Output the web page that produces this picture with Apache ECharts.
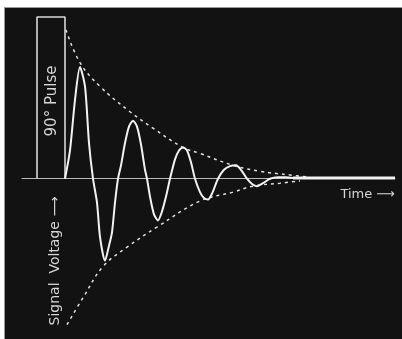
<!DOCTYPE html>
<html>
<head>
<meta charset="utf-8">
<script src="https://cdn.jsdelivr.net/npm/echarts@6/dist/echarts.min.js"></script>
<style>
html,body{margin:0;padding:0;background:#fff;width:402px;height:339px;overflow:hidden;}
#panel{position:absolute;left:4px;top:7px;width:398px;height:332px;background:#121212;border-left:1px solid #9a9a9a;border-top:1px solid #9a9a9a;box-sizing:border-box;}
#chart{position:absolute;left:0;top:0;width:402px;height:339px;}
</style>
</head>
<body>
<div id="panel"></div>
<div id="chart"></div>
<script>
// Time (arbitrary units) and signal voltage (% of initial amplitude)
const signalTime = [0, 0.5, 1.0, 1.5, 2.0, 2.4, 2.8, 3.2, 3.5, 4.0, 4.4, 4.7, 5.0, 5.3, 5.6, 6.0, 6.4, 6.8, 7.2, 7.6, 8.0, 8.2, 8.5, 8.9, 9.3, 9.7, 10.1, 10.5, 11.0, 11.4, 11.8, 12.2, 12.6, 13.0, 13.5, 13.9, 14.3, 14.7, 15.3, 15.9, 16.5, 17.1, 17.6, 18.2, 18.7, 19.2, 19.8, 20.5, 21.3, 22.1, 22.8];
const signalVolt = [0, 19, 53, 75, 62, 24, 0, -16, -39, -55, -45, -36, -16, 0, 9, 24, 35, 39, 35, 23, 6, 0, -12, -24, -28, -22, -12, 0, 13, 19, 21, 19, 11, 0, -9, -13, -14, -10, 0, 6, 8.5, 9, 6, 0, -3.5, -5, -3, 0, 1, 1, 0.5];
const tailTime = [22.8, 33.0];
const tailVolt = [0.5, 0.5];
const upperTime = [0.1, 1.5, 3.5, 6.5, 8.8, 11.8, 13.5, 16.8, 19.5, 22.5, 24.5];
const upperVolt = [100, 78, 62, 45, 34, 21, 17, 9, 5, 2.5, 1];
const lowerTime = [0.2, 1.8, 3.8, 6.2, 9.2, 13.5, 16.8, 18.8, 21.5, 23.5];
const lowerVolt = [-98, -80, -59, -46, -32.5, -15, -9, -5, -3, -1.5];
const pulseTime = [-2.8, -2.8, 0, 0];
const pulseVolt = [0, 108.7, 108.7, 0];
const labels = { pulse: '90° Pulse', signal: 'Signal  Voltage ⟶', time: 'Time ⟶' };

const zip = (a, b) => a.map((v, i) => [v, b[i]]);
const chart = echarts.init(document.getElementById('chart'), null, { renderer: 'canvas' });
chart.setOption({
  backgroundColor: 'transparent',
  animation: false,
  grid: { left: 22, right: 7, top: 15, bottom: 4 },
  xAxis: {
    type: 'value', min: -4.3, max: 33,
    axisLine: { show: true, onZero: true, lineStyle: { color: 'rgba(215,215,215,0.85)', width: 1 } },
    axisTick: { show: false }, axisLabel: { show: false }, splitLine: { show: false }
  },
  yAxis: {
    type: 'value', min: -105, max: 110, show: false, splitLine: { show: false }
  },
  series: [
    { type: 'line', data: zip(pulseTime, pulseVolt), symbol: 'none',
      lineStyle: { color: '#d8d8d8', width: 1.6 } },
    { type: 'line', data: zip(upperTime, upperVolt), symbol: 'none', smooth: 0.4,
      lineStyle: { color: '#e0e0e0', width: 1.5, type: [3, 4] } },
    { type: 'line', data: zip(lowerTime, lowerVolt), symbol: 'none', smooth: 0.4,
      lineStyle: { color: '#e0e0e0', width: 1.5, type: [3, 4] } },
    { type: 'line', data: zip(signalTime, signalVolt), symbol: 'none', smooth: 0.25,
      lineStyle: { color: '#f2f2f2', width: 2 } },
    { type: 'line', data: zip(tailTime, tailVolt), symbol: 'none',
      lineStyle: { color: '#f2f2f2', width: 3 } }
  ],
  graphic: [
    { type: 'text', x: 52, y: 101, rotation: Math.PI / 2,
      style: { text: labels.pulse, fill: '#d6d6d6', font: '15px "DejaVu Sans", sans-serif', textAlign: 'center', textVerticalAlign: 'middle' } },
    { type: 'text', x: 55, y: 261, rotation: Math.PI / 2,
      style: { text: labels.signal, fill: '#d6d6d6', font: '14px "DejaVu Sans", sans-serif', textAlign: 'center', textVerticalAlign: 'middle' } },
    { type: 'text', x: 395, y: 195,
      style: { text: labels.time, fill: '#d6d6d6', font: '13px "DejaVu Sans", sans-serif', textAlign: 'right', textVerticalAlign: 'middle' } }
  ]
});
</script>
</body>
</html>
